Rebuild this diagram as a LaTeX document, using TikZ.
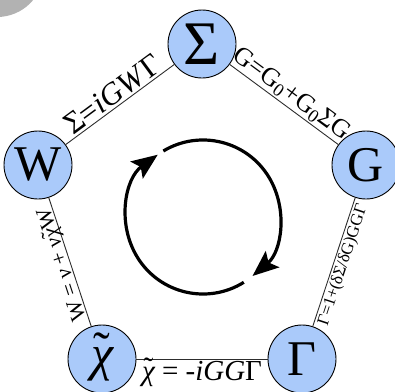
\documentclass[tikz,border=0pt]{standalone}
\usepackage{fontspec}
\setmainfont{Liberation Serif}
\usetikzlibrary{arrows.meta}
\definecolor{nodeblue}{RGB}{170,202,250}
\definecolor{edgegray}{RGB}{45,45,45}
\definecolor{cornergray}{RGB}{178,178,178}
\newcommand{\tchi}{{\ooalign{\itshape χ\cr\hidewidth\raisebox{0.08em}{˜}\hidewidth\cr}}}
\begin{document}
\begin{tikzpicture}[x=1pt,y=-1pt,
  vert/.style={circle,draw,line width=0.9pt,fill=nodeblue,minimum size=68pt,inner sep=0pt,font=\fontsize{50}{50}\selectfont},
  link/.style={draw=edgegray,line width=0.9pt},
  lbl/.style={font=\fontsize{#1}{#1}\selectfont,inner sep=1.5pt,sloped},
  cycle/.style={line width=3.2pt,-{Stealth[length=26pt,width=21pt,inset=5pt]}}]
\useasboundingbox (0,0) rectangle (395,391);
\fill[cornergray] (-3,-30) circle (47);
% the five quantities
\node[vert,font=\fontsize{62}{62}\selectfont] (sig) at (202,44) {Σ};
\node[vert] (gf) at (366,165) {G};
\node[vert] (gam) at (302,359) {Γ};
\node[vert] (chi) at (102,359) {\tchi};
\node[vert] (w) at (38,165) {W};
% Hedin's equations
\draw[link] (w) -- (sig) node[midway,above,lbl=31] {Σ=\textit{iGW}Γ};
\draw[link] (sig) -- (gf) node[midway,above,lbl=26] {G=G\textsubscript{0}+G\textsubscript{0}ΣG};
\draw[link] (gam) -- (gf) node[midway,below,lbl=17] {Γ=1+(δΣ/δG)GGΓ};
\draw[link] (chi) -- (gam) node[midway,below,lbl=29] {\tchi{} = -\textit{iGG}Γ};
\draw[link] (chi) -- (w) node[midway,above,lbl=22,allow upside down] {W = \textit{v} + \textit{v}\tchi W};
% self-consistency cycle
\coordinate (ctr) at (203,217);
\draw[cycle] ([shift={(-121:77)}]ctr) arc (-121:50:77);
\draw[cycle] ([shift={(58:77)}]ctr) arc (58:234:77);
\end{tikzpicture}
\end{document}
